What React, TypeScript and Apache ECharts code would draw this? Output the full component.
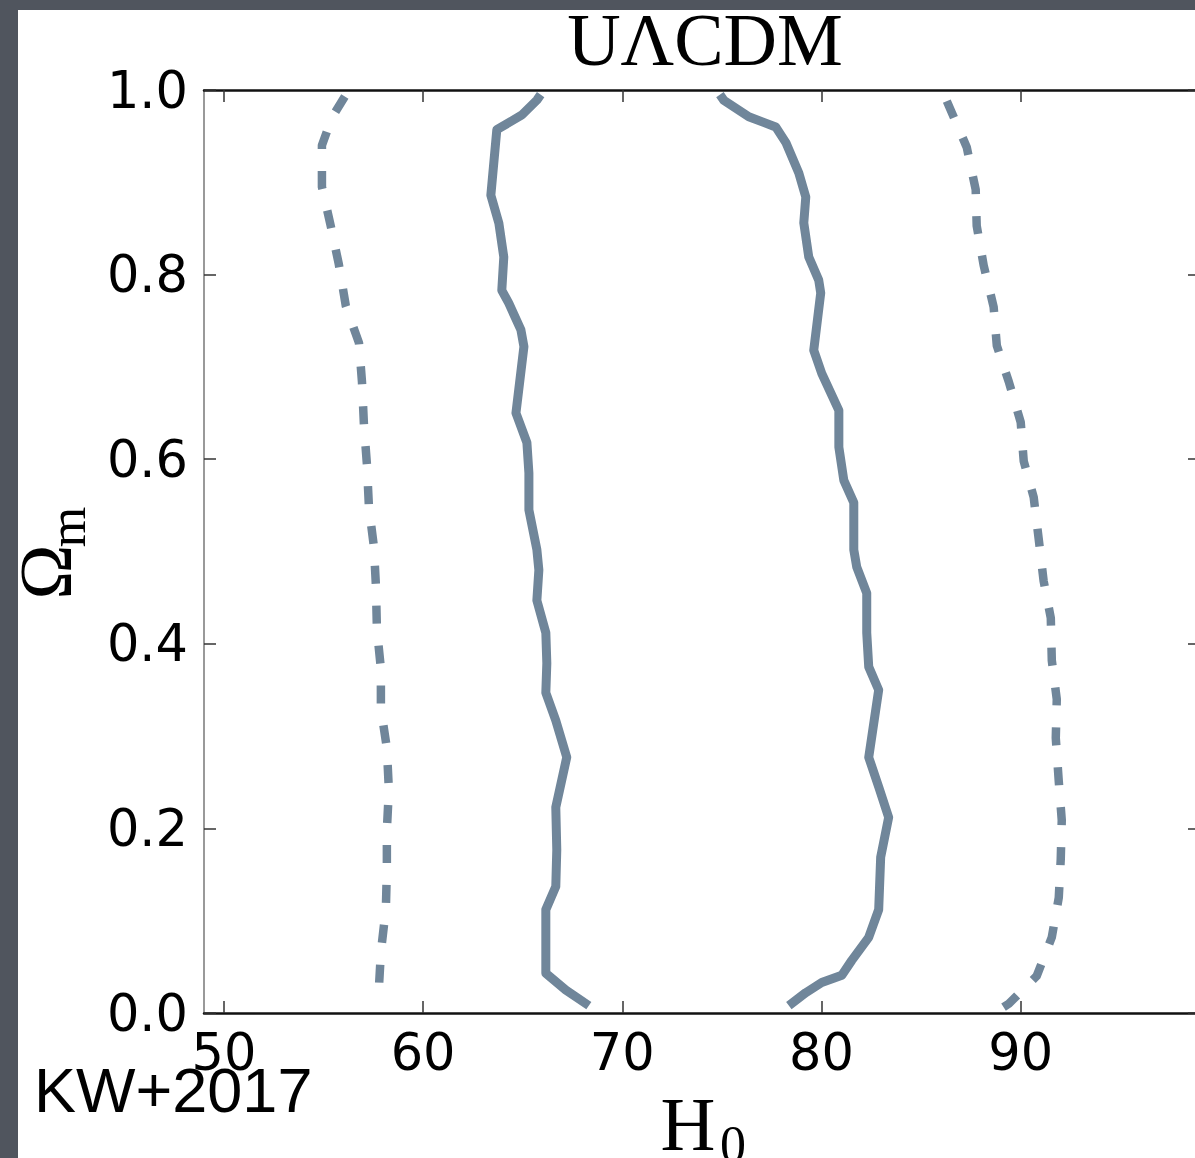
import React, { useEffect, useRef } from "react";
import * as echarts from "echarts";

// Contour lines (H0, Omega_m)
const solidLeft: number[][] = [
  [65.9, 0.995], [65.71, 0.989], [64.96, 0.973], [63.7, 0.957], [63.4, 0.886], [63.8, 0.856],
  [64.05, 0.819], [63.95, 0.783], [64.3, 0.769], [64.91, 0.74], [65.06, 0.722], [64.66, 0.65],
  [65.21, 0.618], [65.31, 0.585], [65.31, 0.545], [65.71, 0.502], [65.81, 0.48], [65.71, 0.447],
  [66.16, 0.412], [66.21, 0.379], [66.16, 0.347], [66.66, 0.317], [67.21, 0.277], [66.66, 0.223],
  [66.71, 0.177], [66.66, 0.137], [66.16, 0.112], [66.16, 0.043], [67.16, 0.025], [68.32, 0.008],
];
const solidRight: number[][] = [
  [74.9, 0.995], [75.09, 0.989], [76.35, 0.971], [77.7, 0.96], [78.21, 0.943], [78.86, 0.91],
  [79.21, 0.884], [79.11, 0.856], [79.36, 0.819], [79.86, 0.794], [79.96, 0.78], [79.61, 0.718],
  [80.01, 0.693], [80.87, 0.653], [80.87, 0.613], [81.12, 0.577], [81.62, 0.553], [81.62, 0.502],
  [81.77, 0.483], [82.27, 0.455], [82.27, 0.412], [82.37, 0.375], [82.87, 0.35], [82.37, 0.277],
  [82.87, 0.245], [83.37, 0.212], [82.97, 0.169], [82.87, 0.112], [82.37, 0.082], [81.52, 0.057],
  [81.02, 0.041], [80.01, 0.033], [79.21, 0.022], [78.36, 0.008],
];
const dashedLeft: number[][] = [
  [56.07, 0.993], [55.42, 0.97], [54.92, 0.94], [54.92, 0.895], [55.37, 0.852], [55.77, 0.811],
  [56.12, 0.766], [56.78, 0.726], [56.93, 0.684], [57.03, 0.637], [57.18, 0.594], [57.28, 0.548],
  [57.53, 0.505], [57.63, 0.463], [57.68, 0.416], [57.88, 0.373], [57.88, 0.33], [58.18, 0.287],
  [58.28, 0.242], [58.18, 0.198], [58.18, 0.155], [58.13, 0.113], [57.88, 0.066], [57.78, 0.027],
];
const dashedRight: number[][] = [
  [86.29, 0.988], [87.29, 0.938], [87.74, 0.892], [87.79, 0.853], [88.14, 0.81], [88.64, 0.765],
  [88.8, 0.723], [89.4, 0.684], [90.0, 0.64], [90.15, 0.598], [90.65, 0.559], [90.9, 0.514],
  [91.15, 0.468], [91.51, 0.428], [91.56, 0.382], [91.81, 0.34], [91.76, 0.298], [91.91, 0.251],
  [92.06, 0.209], [92.01, 0.167], [91.91, 0.125], [91.56, 0.082], [90.8, 0.04], [89.4, 0.01],
  [88.9, 0.003],
];

const xTicks = [50, 60, 70, 80, 90];
const xRange = [49, 99];
const yRange = [0, 1];
const yStep = 0.2;

const LINE = "#70869a";

export default function App() {
  const ref = useRef<HTMLDivElement>(null);
  useEffect(() => {
    if (!ref.current) return;
    const chart = echarts.init(ref.current, null, { renderer: "svg" });
    const tickStyle = { color: "#333", width: 1.5 };
    const lbl = { fontFamily: "DejaVu Sans", fontSize: 51, color: "#000" };
    chart.setOption({
      animation: false,
      backgroundColor: "#50555e",
      grid: { left: 204, top: 90, right: 10, bottom: 145 },
      xAxis: [
        {
          type: "value", position: "bottom", min: xRange[0], max: xRange[1],
          axisLine: { show: true, lineStyle: { color: "#111", width: 2.5 } },
          axisTick: { show: true, inside: true, length: 12, customValues: xTicks, lineStyle: tickStyle },
          axisLabel: { ...lbl, margin: 14, customValues: xTicks },
          splitLine: { show: false },
        },
        {
          type: "value", position: "top", min: xRange[0], max: xRange[1],
          axisLine: { show: true, onZero: false, lineStyle: { color: "#111", width: 2.5 } },
          axisTick: { show: true, inside: true, length: 12, customValues: xTicks, lineStyle: tickStyle },
          axisLabel: { show: false },
          splitLine: { show: false },
        },
      ],
      yAxis: [
        {
          type: "value", position: "left", min: yRange[0], max: yRange[1], interval: yStep,
          axisLine: { show: true, onZero: false, lineStyle: { color: "#777", width: 1.5 } },
          axisTick: { show: true, inside: true, length: 12, lineStyle: tickStyle },
          axisLabel: { ...lbl, margin: 16, formatter: (v: number) => v.toFixed(1) },
          splitLine: { show: false },
        },
        {
          type: "value", position: "right", min: yRange[0], max: yRange[1], interval: yStep,
          axisLine: { show: true, onZero: false, lineStyle: { color: "#111", width: 2.5 } },
          axisTick: { show: true, inside: true, length: 12, lineStyle: tickStyle },
          axisLabel: { show: false },
          splitLine: { show: false },
        },
      ],
      series: [
        { data: solidLeft, type: "solid" },
        { data: solidRight, type: "solid" },
        { data: dashedLeft, type: "dashed" },
        { data: dashedRight, type: "dashed" },
      ].map((s) => ({
        type: "line",
        xAxisIndex: 0,
        yAxisIndex: 0,
        data: s.data,
        showSymbol: false,
        smooth: false,
        lineStyle: {
          color: LINE,
          width: s.type === "solid" ? 9 : 8.5,
          type: s.type === "solid" ? "solid" : [18, 22],
          cap: "butt",
          join: "round",
        },
      })),
      graphic: [
        {
          type: "rect", z: -10, silent: true,
          shape: { x: 18, y: 10, width: 1192, height: 1148 },
          style: { fill: "#ffffff" },
        },
        {
          type: "text", x: 705, y: 40, z: 10,
          style: { text: "UΛCDM", font: "74px 'Liberation Serif'", fill: "#000", align: "center", verticalAlign: "middle" },
        },
        {
          type: "text", x: 688, y: 1124, z: 10,
          style: { text: "H", font: "76px 'Liberation Serif'", fill: "#000", align: "center", verticalAlign: "middle" },
        },
        {
          type: "text", x: 733, y: 1144, z: 10,
          style: { text: "0", font: "52px 'Liberation Serif'", fill: "#000", align: "center", verticalAlign: "middle" },
        },
        {
          type: "text", x: 46, y: 572, rotation: Math.PI / 2, z: 10,
          style: { text: "Ω", font: "74px 'Liberation Serif'", fill: "#000", align: "center", verticalAlign: "middle" },
        },
        {
          type: "text", x: 67, y: 527, rotation: Math.PI / 2, z: 10,
          style: { text: "m", font: "52px 'Liberation Serif'", fill: "#000", align: "center", verticalAlign: "middle" },
        },
        {
          type: "text", x: 34, y: 1090, z: 10,
          style: { text: "KW+2017", font: "63px 'Liberation Sans'", fill: "#000", align: "left", verticalAlign: "middle" },
        },
      ],
    });
    return () => chart.dispose();
  }, []);
  return (
    <div ref={ref} style={{ position: "fixed", left: 0, top: 0, width: 1210, height: 1158 }} />
  );
}
